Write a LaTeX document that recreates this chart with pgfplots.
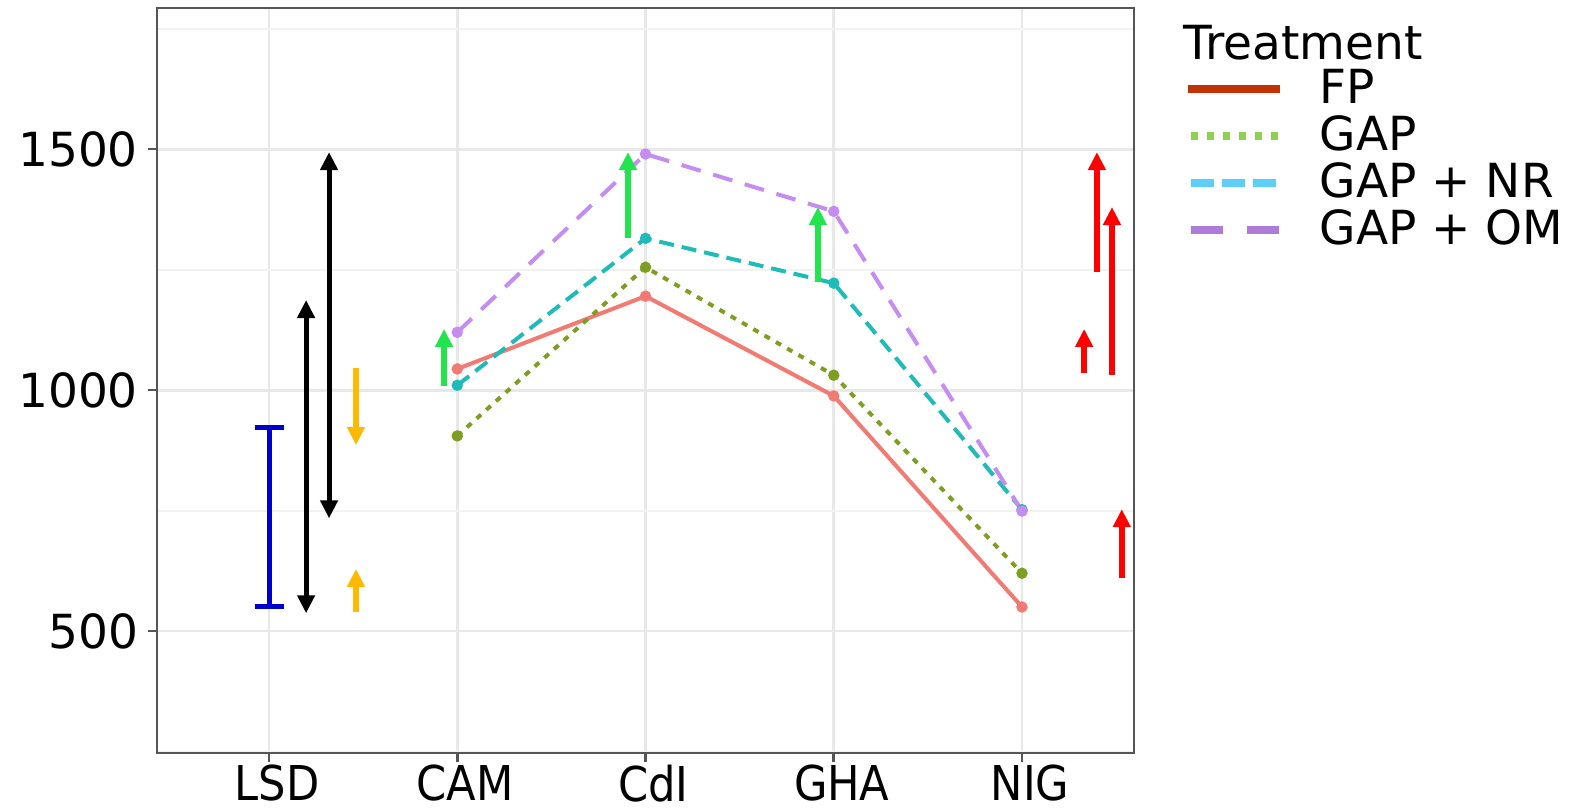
\documentclass[border=0pt]{standalone}
\usepackage{fontspec}
\setmainfont{DejaVu Sans}
\newfontfamily\condfont{DejaVu Sans Condensed}
\usepackage{pgfplots}
\pgfplotsset{compat=1.18}
\usetikzlibrary{arrows.meta}
\definecolor{fpline}{HTML}{F27A72}
\definecolor{gapline}{HTML}{7E9E22}
\definecolor{nrline}{HTML}{1FBABA}
\definecolor{omline}{HTML}{C58CF2}
\definecolor{fpleg}{HTML}{C23205}
\definecolor{gapleg}{HTML}{8ED24E}
\definecolor{nrleg}{HTML}{5CCEF8}
\definecolor{omleg}{HTML}{AC7CD8}
\definecolor{arrgreen}{HTML}{22E44C}
\definecolor{arrorange}{HTML}{FFB900}
\definecolor{lsdblue}{HTML}{0000CC}
\definecolor{framegray}{HTML}{555555}
\newcommand\xtickfont{\condfont\fontsize{24}{28}\selectfont}
\newcommand\ytickfont{\fontsize{23.5}{27}\selectfont}
\newcommand\legfont{\fontsize{23.5}{27}\selectfont}
\newcommand\titfont{\fontsize{23.5}{28}\selectfont}
\tikzset{
  tipT/.style={-{Triangle[width=8.5pt,length=9pt]}},
  tipTT/.style={{Triangle[width=8.5pt,length=9pt]}-{Triangle[width=8.5pt,length=9pt]}},
}
\begin{document}
\begin{tikzpicture}
\useasboundingbox (0,0) rectangle (791.5pt,405pt);
\begin{axis}[
  at={(78.5pt,28.5pt)}, anchor=south west,
  width=488.5pt, height=372.5pt, scale only axis,
  xmin=-0.595, xmax=4.595, ymin=247, ymax=1793,
  xtick={0,1,2,3,4}, xticklabels={LSD,CAM,CdI,GHA,NIG},
  ytick={500,1000,1500}, yticklabels={500,1000,1500},
  minor ytick={250,750,1250,1750},
  tick pos=left,
  grid=both,
  major grid style={line width=1.4pt, color=black!9},
  minor grid style={line width=0.9pt, color=black!5},
  axis line style={line width=1.3pt, color=framegray},
  tick align=outside, major tick length=4.5pt, minor tick length=0pt,
  tick style={line width=1.3pt, color=framegray},
  xticklabel style={font=\xtickfont, text=black, xshift=4pt, yshift=2pt},
  yticklabel style={font=\ytickfont, text=black, xshift=-1.5pt},
  clip=false,
  legend style={at={(1.0512,0.9201)}, anchor=north west, draw=none, fill=none,
    inner sep=0pt, outer sep=0pt, font=\legfont, row sep=2pt, column sep=16.5pt,
    nodes={inner sep=0pt, text height=18pt, text depth=3.5pt}},
  legend cell align=left,
  legend image code/.code={\draw[#1] (0pt,0pt) -- (46pt,0pt);},
]
% data series
\addplot[fpline, line width=2pt, mark=*, mark size=1.8pt, forget plot]
  coordinates {(1,1044) (2,1195) (3,988) (4,550)};
\addplot[gapline, line width=2pt, dash pattern=on 3pt off 3.5pt, mark=*, mark size=1.8pt, mark options={solid}, forget plot]
  coordinates {(1,905) (2,1255) (3,1031) (4,620)};
\addplot[nrline, line width=2pt, dash pattern=on 7.5pt off 4pt, mark=*, mark size=1.8pt, mark options={solid}, forget plot]
  coordinates {(1,1010) (2,1315) (3,1222) (4,752)};
\addplot[omline, line width=2pt, dash pattern=on 10pt off 6.5pt, mark=*, mark size=1.8pt, mark options={solid}, forget plot]
  coordinates {(1,1120) (2,1490) (3,1371) (4,749)};
% LSD bar
\addplot[lsdblue, line width=2.5pt, {Bar[width=14.5pt]}-{Bar[width=14.5pt]}, forget plot]
  coordinates {(0,545) (0,928)};
% black double arrows
\addplot[black, line width=2.5pt, tipTT, forget plot] coordinates {(0.197,537) (0.197,1187)};
\addplot[black, line width=2.5pt, tipTT, forget plot] coordinates {(0.319,734) (0.319,1494)};
% orange arrows
\addplot[arrorange, line width=3pt, tipT, forget plot] coordinates {(0.462,1046) (0.462,886)};
\addplot[arrorange, line width=3pt, tipT, forget plot] coordinates {(0.462,539) (0.462,629)};
% green arrows
\addplot[arrgreen, line width=3pt, tipT, forget plot] coordinates {(0.93,1008) (0.93,1127)};
\addplot[arrgreen, line width=3pt, tipT, forget plot] coordinates {(1.907,1315) (1.907,1494)};
\addplot[arrgreen, line width=3pt, tipT, forget plot] coordinates {(2.916,1224) (2.916,1380)};
% red arrows
\addplot[red, line width=3pt, tipT, forget plot] coordinates {(4.398,1245) (4.398,1494)};
\addplot[red, line width=3pt, tipT, forget plot] coordinates {(4.478,1031) (4.478,1380)};
\addplot[red, line width=3pt, tipT, forget plot] coordinates {(4.33,1035) (4.33,1127)};
\addplot[red, line width=3pt, tipT, forget plot] coordinates {(4.53,610) (4.53,753)};
% legend
\addlegendimage{fpleg, line width=4pt}
\addlegendentry{FP}
\addlegendimage{gapleg, line width=3.6pt, dash pattern=on 3.5pt off 4.5pt, xshift=1.5pt}
\addlegendentry{GAP}
\addlegendimage{nrleg, line width=3.6pt, dash pattern=on 11.5pt off 4pt, xshift=1.5pt}
\addlegendentry{GAP + NR}
\addlegendimage{omleg, line width=3.8pt, dash pattern=on 16pt off 12pt, xshift=1.5pt}
\addlegendentry{GAP + OM}
\node[anchor=base west, inner sep=0pt, font=\titfont] at (rel axis cs:1.0502,0.9315) {Treatment};
\end{axis}
\end{tikzpicture}
\end{document}
